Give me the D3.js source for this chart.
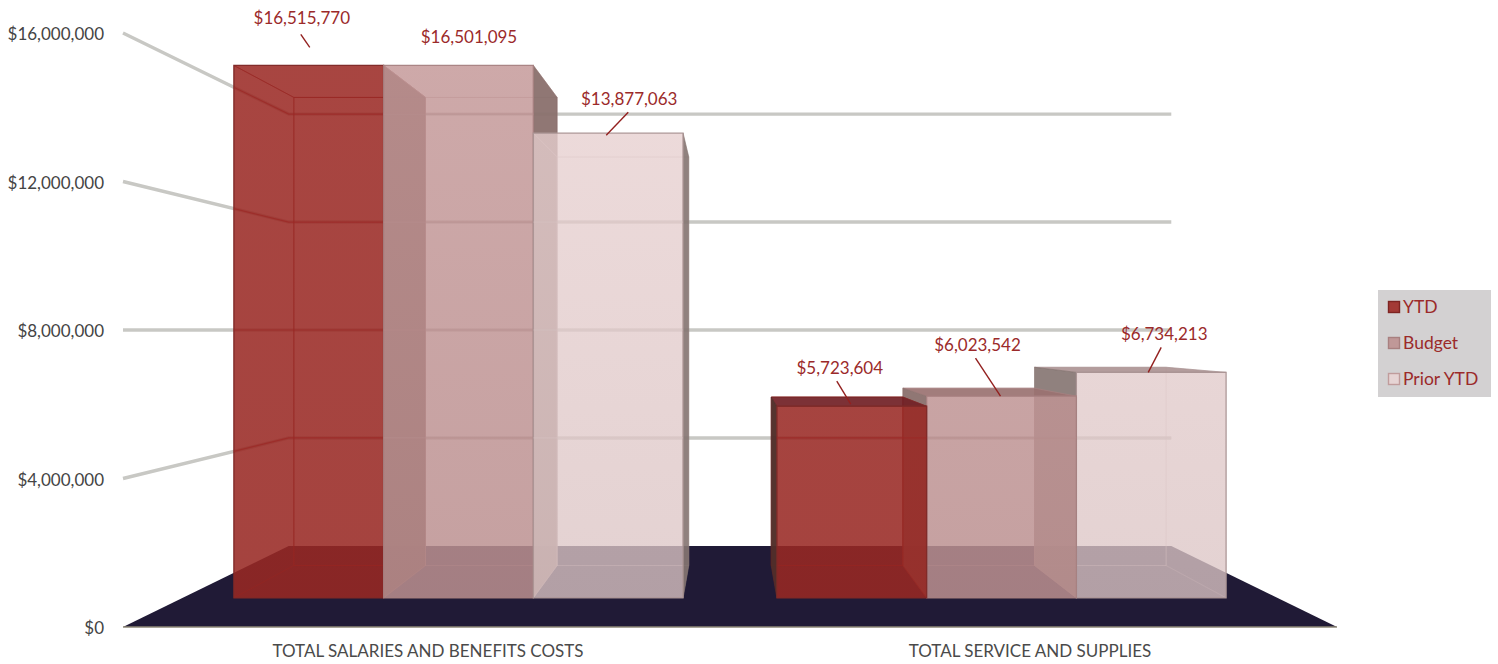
<!DOCTYPE html>
<html>
<head>
<meta charset="utf-8">
<style>
  html, body { margin: 0; padding: 0; background: #fff; }
  svg { display: block; }
  text { font-family: Lato, "Open Sans", sans-serif; }
</style>
<script src="https://cdn.jsdelivr.net/npm/d3@7"></script>
</head>
<body>
<svg id="chart" width="1498" height="664"></svg>
<script>
// Chart data
const categories = ["TOTAL SALARIES AND BENEFITS COSTS", "TOTAL SERVICE AND SUPPLIES"];
const seriesNames = ["YTD", "Budget", "Prior YTD"];
const ytdValues = [16515770, 5723604];
const budgetValues = [16501095, 6023542];
const priorYtdValues = [13877063, 6734213];
const axisTicks = [0, 4000000, 8000000, 12000000, 16000000];

// Columns stop just under the top of the value axis, so larger values are cut off there
const axisMax = 16000000;
const columnCeiling = 15900000;

// Perspective: world units scale toward the vanishing point as depth shrinks
const vanish = { x: 730, y: 330 };
const depth = { floorFront: 1, barFront: 0.902, barBack: 0.793, wall: 0.727 };
const halfWidth = 607, halfHeight = 297;
const project = (x, y, s) => [vanish.x + x * s, vanish.y + y * s];

// Scales in world units
const plotHalf = 602;
const xBand = d3.scaleBand().domain(categories).range([-plotHalf, plotHalf]);
const xSeries = d3.scaleBand().domain(seriesNames).range([0, xBand.bandwidth()]).paddingOuter(0.3133);
const yWorld = d3.scaleLinear().domain([0, axisMax]).range([halfHeight, -halfHeight]);

// Face styling per series
const styles = {
  "YTD": {
    fill: "#982823", fillTop: "#9c2b26", frontOp: 0.75, innerOp: 0.5,
    side: "#4f2e2a", sideOp: 0.95, top: "#6e2026", topOp: 0.85,
    edge: "#8e1c1c", edgeOp: 0.75, frontEdge: "#7e2a28",
    grid: "#9c2826", gridOp: 0.75,
    swatch: "#a33a36", swatchEdge: "#7e2422"
  },
  "Budget": {
    fill: "#bb9090", fillTop: "#c79c9c", frontOp: 0.7, innerOp: 0.5,
    side: "#89706c", sideOp: 0.92, top: "#98706f", topOp: 0.85,
    edge: "#ad8585", edgeOp: 0.4, frontEdge: "#a58080",
    grid: "#b78e8e", gridOp: 0.6,
    swatch: "#c09898", swatchEdge: "#a88080"
  },
  "Prior YTD": {
    fill: "#dcc5c5", fillTop: "#ecd4d4", frontOp: 0.6, innerOp: 0.45,
    side: "#7f706c", sideOp: 0.85, top: "#a88f8f", topOp: 0.85,
    edge: "#d2bcbc", edgeOp: 0.35, frontEdge: "#a89292",
    grid: "#d7c3c3", gridOp: 0.45,
    swatch: "#e6d4d4", swatchEdge: "#c09c9c"
  }
};

// Callout placement relative to the top-centre of each column's front face
const callouts = [
  { label: [-7, -47], line: [[-8, -31], [1, -18]] },
  { label: [10.5, -28], line: null },
  { label: [21, -34.5], line: [[20, -21], [-2, 2]] },
  { label: [-12, -38.5], line: [[-15, -25], [-1, -2]] },
  { label: [-24, -51.5], line: [[-26, -38], [-1, 0]] },
  { label: [13, -38.5], line: [[10, -25], [-3, 0]] }
];

const seriesValues = [ytdValues, budgetValues, priorYtdValues];
const bars = [];
categories.forEach((category, c) => {
  seriesNames.forEach((name, s) => {
    const x0 = xBand(category) + xSeries(name);
    const value = seriesValues[s][c];
    bars.push({
      category, name, value,
      x0, x1: x0 + xSeries.bandwidth(),
      yTop: yWorld(Math.min(value, columnCeiling)),
      yBase: yWorld(0),
      callout: callouts[c * 3 + s],
      style: styles[name]
    });
  });
});

const svg = d3.select("#chart");
const line = d3.line();
const polygon = pts => line(pts) + "Z";
const money = d3.format("$,");

// Soft vertical shading on the front faces, shared across the plot height
const defs = svg.append("defs");
seriesNames.forEach((name, i) => {
  const grad = defs.append("linearGradient")
    .attr("id", "front-" + i)
    .attr("gradientUnits", "userSpaceOnUse")
    .attr("x1", 0).attr("x2", 0).attr("y1", 65).attr("y2", 598);
  grad.append("stop").attr("offset", 0).attr("stop-color", styles[name].fillTop);
  grad.append("stop").attr("offset", 1).attr("stop-color", styles[name].fill);
});

// Gridline paths: slanted along the left wall, then straight across the back wall
const gridPath = v => {
  const y = yWorld(v);
  return line([
    project(-halfWidth, y, depth.floorFront),
    project(-halfWidth, y, depth.wall),
    project(halfWidth, y, depth.wall)
  ]);
};

svg.append("g").selectAll("path")
  .data(axisTicks.filter(v => v > 0))
  .join("path")
  .attr("d", gridPath)
  .attr("fill", "none")
  .attr("stroke", "#c8c8c4")
  .attr("stroke-width", 3.4);

// Floor
svg.append("path")
  .attr("d", polygon([
    project(-halfWidth, halfHeight, depth.floorFront),
    project(halfWidth, halfHeight, depth.floorFront),
    project(halfWidth, halfHeight, depth.wall),
    project(-halfWidth, halfHeight, depth.wall)
  ]))
  .attr("fill", "#201a36");
svg.append("path")
  .attr("d", line([
    project(-halfWidth, halfHeight, depth.floorFront),
    project(halfWidth, halfHeight, depth.floorFront)
  ]))
  .attr("stroke", "#8d8776")
  .attr("stroke-width", 1.4);

// Columns: painted from the outside toward the centre so nearer faces overlap
const ordered = bars.slice().sort((a, b) =>
  Math.abs(b.x0 + b.x1) - Math.abs(a.x0 + a.x1));

const layer = svg.append("g");
ordered.forEach(bar => {
  const st = bar.style;
  const g = layer.append("g");
  const f = depth.barFront, k = depth.barBack;
  const { x0, x1, yTop, yBase } = bar;
  const face = (pts, fill, op, stroke, strokeOp) => g.append("path")
    .attr("d", polygon(pts))
    .attr("fill", fill)
    .attr("fill-opacity", op)
    .attr("stroke", stroke)
    .attr("stroke-opacity", strokeOp)
    .attr("stroke-width", 1);

  const quadBack = [project(x0, yTop, k), project(x1, yTop, k), project(x1, yBase, k), project(x0, yBase, k)];
  const quadBottom = [project(x0, yBase, k), project(x1, yBase, k), project(x1, yBase, f), project(x0, yBase, f)];
  const quadTop = [project(x0, yTop, f), project(x1, yTop, f), project(x1, yTop, k), project(x0, yTop, k)];
  const quadLeft = [project(x0, yTop, f), project(x0, yTop, k), project(x0, yBase, k), project(x0, yBase, f)];
  const quadRight = [project(x1, yTop, f), project(x1, yTop, k), project(x1, yBase, k), project(x1, yBase, f)];
  const onLeft = x1 < 0;

  face(quadBack, st.fill, st.innerOp, st.edge, st.edgeOp);
  face(quadBottom, st.fill, st.innerOp, st.edge, st.edgeOp * 0.4);
  // The side facing away from the centre is only seen through the column
  face(onLeft ? quadLeft : quadRight, st.fill, st.innerOp, st.edge, st.edgeOp * 0.6);
  // Above eye level the top is seen from beneath, below it from above
  if (yTop < 0) face(quadTop, st.fill, st.innerOp, st.edge, st.edgeOp);
  else face(quadTop, st.top, st.topOp, st.frontEdge, 0.7);
  face(onLeft ? quadRight : quadLeft, st.side, st.sideOp, st.side, 0.5);

  // Front face, with the gridlines showing through it
  const frontQuad = [project(x0, yTop, f), project(x1, yTop, f), project(x1, yBase, f), project(x0, yBase, f)];
  const clipId = "clip-" + bars.indexOf(bar);
  svg.append("clipPath").attr("id", clipId).append("path").attr("d", polygon(frontQuad));
  face(frontQuad, `url(#front-${seriesNames.indexOf(bar.name)})`, st.frontOp, st.frontEdge, 0.9)
    .attr("stroke-width", 1.3);
  g.append("g").attr("clip-path", `url(#${clipId})`)
    .selectAll("path")
    .data(axisTicks.filter(v => v > 0))
    .join("path")
    .attr("d", gridPath)
    .attr("fill", "none")
    .attr("stroke", st.grid)
    .attr("stroke-width", 1.2)
    .attr("stroke-opacity", st.gridOp);
});

// Value callouts
const labelColor = "#9b2a2a";
const calloutLayer = svg.append("g");
bars.forEach(bar => {
  const [cx, cy] = project((bar.x0 + bar.x1) / 2, bar.yTop, depth.barFront);
  const c = bar.callout;
  calloutLayer.append("text")
    .attr("x", cx + c.label[0])
    .attr("y", cy + c.label[1])
    .attr("dy", "0.35em")
    .attr("text-anchor", "middle")
    .attr("font-size", 17)
    .attr("fill", labelColor)
    .text(money(bar.value));
  if (c.line) {
    calloutLayer.append("path")
      .attr("d", line(c.line.map(([dx, dy]) => [cx + dx, cy + dy])))
      .attr("stroke", "#93201f")
      .attr("stroke-width", 1.4);
  }
});

// Value axis, on the front plane
const yAxisScale = yWorld.copy().range([
  project(0, halfHeight, depth.floorFront)[1],
  project(0, -halfHeight, depth.floorFront)[1]
]);
const yAxis = svg.append("g")
  .attr("transform", "translate(104,1.5)")
  .call(d3.axisLeft(yAxisScale).tickValues(axisTicks).tickFormat(money).tickSize(0).tickPadding(0));
yAxis.select(".domain").remove();
yAxis.selectAll("text").attr("font-size", 17).attr("fill", "#444444")
  .style("font-family", "Lato, 'Open Sans', sans-serif");

// Category axis
const xAxisScale = xBand.copy().range([vanish.x - plotHalf, vanish.x + plotHalf]);
const xAxis = svg.append("g")
  .attr("transform", "translate(-1,645)")
  .call(d3.axisBottom(xAxisScale).tickSize(0).tickPadding(0));
xAxis.select(".domain").remove();
xAxis.selectAll("text").attr("font-size", 17).attr("fill", "#4a4a4a")
  .style("font-family", "Lato, 'Open Sans', sans-serif");

// Legend
const legend = svg.append("g").attr("transform", "translate(1378,290)");
legend.append("rect").attr("width", 113).attr("height", 107).attr("fill", "#d3d1d2");
const rowY = d3.scalePoint().domain(seriesNames).range([17, 89]);
const rows = legend.selectAll("g.row").data(seriesNames).join("g")
  .attr("class", "row")
  .attr("transform", d => `translate(0,${rowY(d)})`);
rows.append("rect")
  .attr("x", 10.5).attr("y", -5.5).attr("width", 11).attr("height", 11)
  .attr("fill", d => styles[d].swatch)
  .attr("stroke", d => styles[d].swatchEdge)
  .attr("stroke-width", 1.4);
rows.append("text")
  .attr("x", 25).attr("dy", "0.35em")
  .attr("font-size", 17.5)
  .attr("fill", labelColor)
  .text(d => d);
</script>
</body>
</html>
